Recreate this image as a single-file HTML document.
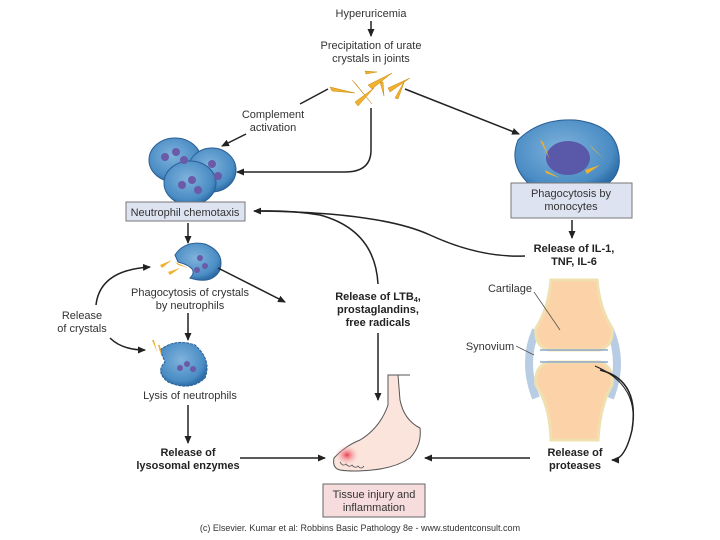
<!DOCTYPE html>
<html><head><meta charset="utf-8"><style>
html,body{margin:0;padding:0;background:#fff;}
svg{display:block;font-family:"Liberation Sans",sans-serif;}
.t{font-size:11px;fill:#333;text-anchor:middle}
.b{font-size:11px;fill:#222;font-weight:bold;text-anchor:middle}
.l{stroke:#222;stroke-width:1.5;fill:none}
</style></head><body>
<svg width="720" height="540" viewBox="0 0 720 540">
<defs>
<marker id="a" markerWidth="8" markerHeight="8" refX="7" refY="4" orient="auto" markerUnits="userSpaceOnUse"><path d="M0,0.5 L8,4 L0,7.5 z" fill="#222"/></marker>
<radialGradient id="cell" cx="45%" cy="40%" r="60%"><stop offset="0" stop-color="#7fb3dc"/><stop offset="0.8" stop-color="#4a8cc4"/><stop offset="1" stop-color="#2f6ea8"/></radialGradient>
<radialGradient id="red" cx="50%" cy="50%" r="50%"><stop offset="0" stop-color="#e84050"/><stop offset="1" stop-color="#f8c8c8" stop-opacity="0"/></radialGradient>
</defs>

<text class="t" x="371" y="17">Hyperuricemia</text>
<line class="l" x1="371" y1="21" x2="371" y2="36" marker-end="url(#a)"/>
<text class="t" x="371" y="49">Precipitation of urate</text>
<text class="t" x="371" y="62">crystals in joints</text>
<g fill="#f0b030" stroke="#c88a10" stroke-width="0.5">
<path d="M330,87 L355,93 L332,91z"/><path d="M352,80 L372,104 L356,84z"/><path d="M355,102 L374,88 L358,106z"/><path d="M368,85 L392,73 L372,89z"/>
<path d="M380,82 L384,96 L383,82z"/><path d="M395,98 L405,80 L398,99z"/><path d="M388,88 L410,78 L390,92z"/><path d="M365,71 L377,72 L366,74z"/>
</g>
<line class="l" x1="328" y1="89" x2="300" y2="104"/>
<text class="t" x="273" y="118">Complement</text>
<text class="t" x="273" y="131">activation</text>
<line class="l" x1="246" y1="134" x2="222" y2="146" marker-end="url(#a)"/>
<path class="l" d="M371,108 L371,150 Q371,172 345,172 L237,172" marker-end="url(#a)"/>
<line class="l" x1="405" y1="89" x2="519" y2="134" marker-end="url(#a)"/>

<g stroke="#2a5f95" stroke-width="1">
<ellipse cx="175" cy="160" rx="26" ry="22" fill="url(#cell)"/>
<ellipse cx="212" cy="170" rx="24" ry="22" fill="url(#cell)"/>
<ellipse cx="190" cy="183" rx="26" ry="22" fill="url(#cell)"/>
</g>
<g fill="#6a5aa8"><circle cx="165" cy="157" r="4"/><circle cx="176" cy="152" r="4"/><circle cx="184" cy="160" r="4"/><circle cx="212" cy="164" r="4"/><circle cx="218" cy="176" r="4"/><circle cx="182" cy="185" r="4"/><circle cx="192" cy="180" r="4"/><circle cx="198" cy="190" r="4"/></g>
<rect x="126" y="202" width="119" height="19" fill="#dde3f0" stroke="#777"/>
<text class="t" x="185" y="216">Neutrophil chemotaxis</text>

<path d="M518,140 Q540,118 575,120 Q612,124 618,150 Q625,180 595,190 Q560,200 530,185 Q508,165 518,140z" fill="url(#cell)" stroke="#2a5f95"/>
<ellipse cx="568" cy="158" rx="22" ry="17" fill="#5a58a8"/>
<g fill="#f0b030"><path d="M540,140 L550,160 L543,142z"/><path d="M590,145 L605,160 L592,148z"/><path d="M545,170 L560,178 L546,173z"/><path d="M585,170 L600,165 L587,174z"/></g>
<rect x="511" y="183" width="121" height="35" fill="#dde3f0" stroke="#777"/>
<text class="t" x="571" y="197">Phagocytosis by</text>
<text class="t" x="571" y="210">monocytes</text>
<line class="l" x1="572" y1="220" x2="572" y2="238" marker-end="url(#a)"/>
<text class="b" x="574" y="252">Release of IL-1,</text>
<text class="b" x="574" y="265">TNF, IL-6</text>
<path class="l" d="M525,256 Q480,258 430,235 Q380,212 254,211" marker-end="url(#a)"/>
<path class="l" d="M378,284 Q375,230 320,215 Q290,210 256,211"/>

<line class="l" x1="188" y1="223" x2="188" y2="243" marker-end="url(#a)"/>
<path d="M175,255 Q185,240 205,244 Q225,252 220,270 Q212,285 190,278 Q200,268 178,262z" fill="url(#cell)" stroke="#2a5f95"/>
<g fill="#6a5aa8"><circle cx="200" cy="258" r="3"/><circle cx="205" cy="266" r="3"/><circle cx="197" cy="270" r="3"/></g>
<g fill="#f0b030"><path d="M160,265 L172,260 L162,268z"/><path d="M168,272 L180,268 L170,275z"/><path d="M175,262 L188,268 L178,265z"/></g>
<text class="t" x="190" y="296">Phagocytosis of crystals</text>
<text class="t" x="190" y="309">by neutrophils</text>
<line class="l" x1="218" y1="268" x2="285" y2="302" marker-end="url(#a)"/>
<text class="b" x="378" y="300">Release of LTB<tspan font-size="7" dy="2">4</tspan><tspan dy="-2">,</tspan></text>
<text class="b" x="378" y="313">prostaglandins,</text>
<text class="b" x="378" y="326">free radicals</text>
<line class="l" x1="378" y1="333" x2="378" y2="400" marker-end="url(#a)"/>

<text class="t" x="82" y="319">Release</text>
<text class="t" x="82" y="332">of crystals</text>
<path class="l" d="M96,305 Q100,270 150,267" marker-end="url(#a)"/>
<path class="l" d="M110,338 Q122,350 145,350" marker-end="url(#a)"/>
<line class="l" x1="188" y1="313" x2="188" y2="340" marker-end="url(#a)"/>
<path d="M160,350 Q175,338 195,345 Q212,360 205,378 Q190,392 168,382 Q155,372 165,362z" fill="url(#cell)" stroke="#2a5f95" stroke-dasharray="3,1"/>
<g fill="#6a5aa8"><circle cx="180" cy="368" r="3"/><circle cx="187" cy="364" r="3"/><circle cx="193" cy="369" r="3"/></g>
<g fill="#f0b030"><path d="M152,340 L157,352 L154,340z"/><path d="M158,345 L162,358 L160,345z"/></g>
<text class="t" x="190" y="399">Lysis of neutrophils</text>
<line class="l" x1="188" y1="405" x2="188" y2="443" marker-end="url(#a)"/>
<text class="b" x="188" y="456">Release of</text>
<text class="b" x="188" y="469">lysosomal enzymes</text>
<line class="l" x1="240" y1="458" x2="325" y2="458" marker-end="url(#a)"/>

<!-- foot -->
<path d="M388,375 L398,375 L400,400 Q404,420 420,428 Q422,445 410,458 Q395,468 372,470 Q352,472 340,470 Q332,468 334,458 Q345,446 360,440 Q380,428 388,405z" fill="#fbe4dc" stroke="#555"/>
<path d="M398,375 L410,375" stroke="#555"/>
<ellipse cx="347" cy="455" rx="12" ry="10" fill="url(#red)"/>
<path d="M340,462 q3,5 6,2 q3,4 6,1 q3,4 6,1 q3,4 6,0" stroke="#555" fill="none" stroke-width="0.8"/>
<rect x="323" y="484" width="102" height="33" fill="#f6dcdc" stroke="#666"/>
<text class="t" x="374" y="498">Tissue injury and</text>
<text class="t" x="374" y="511">inflammation</text>

<!-- joint -->
<path d="M536,330 Q522,362 536,398 M610,330 Q624,362 610,398" stroke="#b8cce4" stroke-width="8" fill="none"/>
<path d="M551,280 L597,280 Q600,310 612,328 Q614,345 600,350 L548,350 Q534,345 536,328 Q548,310 551,280z" fill="#fcd3a8" stroke="#f0e0b0" stroke-width="3"/>
<path d="M548,362 L600,362 Q614,367 612,385 Q600,405 598,440 L551,440 Q550,405 536,385 Q534,367 548,362z" fill="#fcd3a8" stroke="#f0e0b0" stroke-width="3"/>
<path d="M540,350 L608,350 M540,362 L608,362" stroke="#8aa8cc" stroke-width="1.5"/>
<text class="t" x="510" y="292">Cartilage</text>
<line x1="534" y1="292" x2="560" y2="330" stroke="#555" stroke-width="0.8"/>
<text class="t" x="490" y="350">Synovium</text>
<line x1="516" y1="346" x2="534" y2="355" stroke="#555" stroke-width="0.8"/>
<path class="l" d="M600,370 Q640,380 632,430 Q625,460 612,460" marker-end="url(#a)"/>
<path d="M595,366 Q640,385 632,430" stroke="#222" fill="none" stroke-width="1"/>
<text class="b" x="575" y="456">Release of</text>
<text class="b" x="575" y="469">proteases</text>
<line class="l" x1="530" y1="458" x2="425" y2="458" marker-end="url(#a)"/>

<text x="360" y="531" style="font-size:9px;fill:#333;text-anchor:middle">(c) Elsevier. Kumar et al: Robbins Basic Pathology 8e - www.studentconsult.com</text>
</svg>
</body></html>
